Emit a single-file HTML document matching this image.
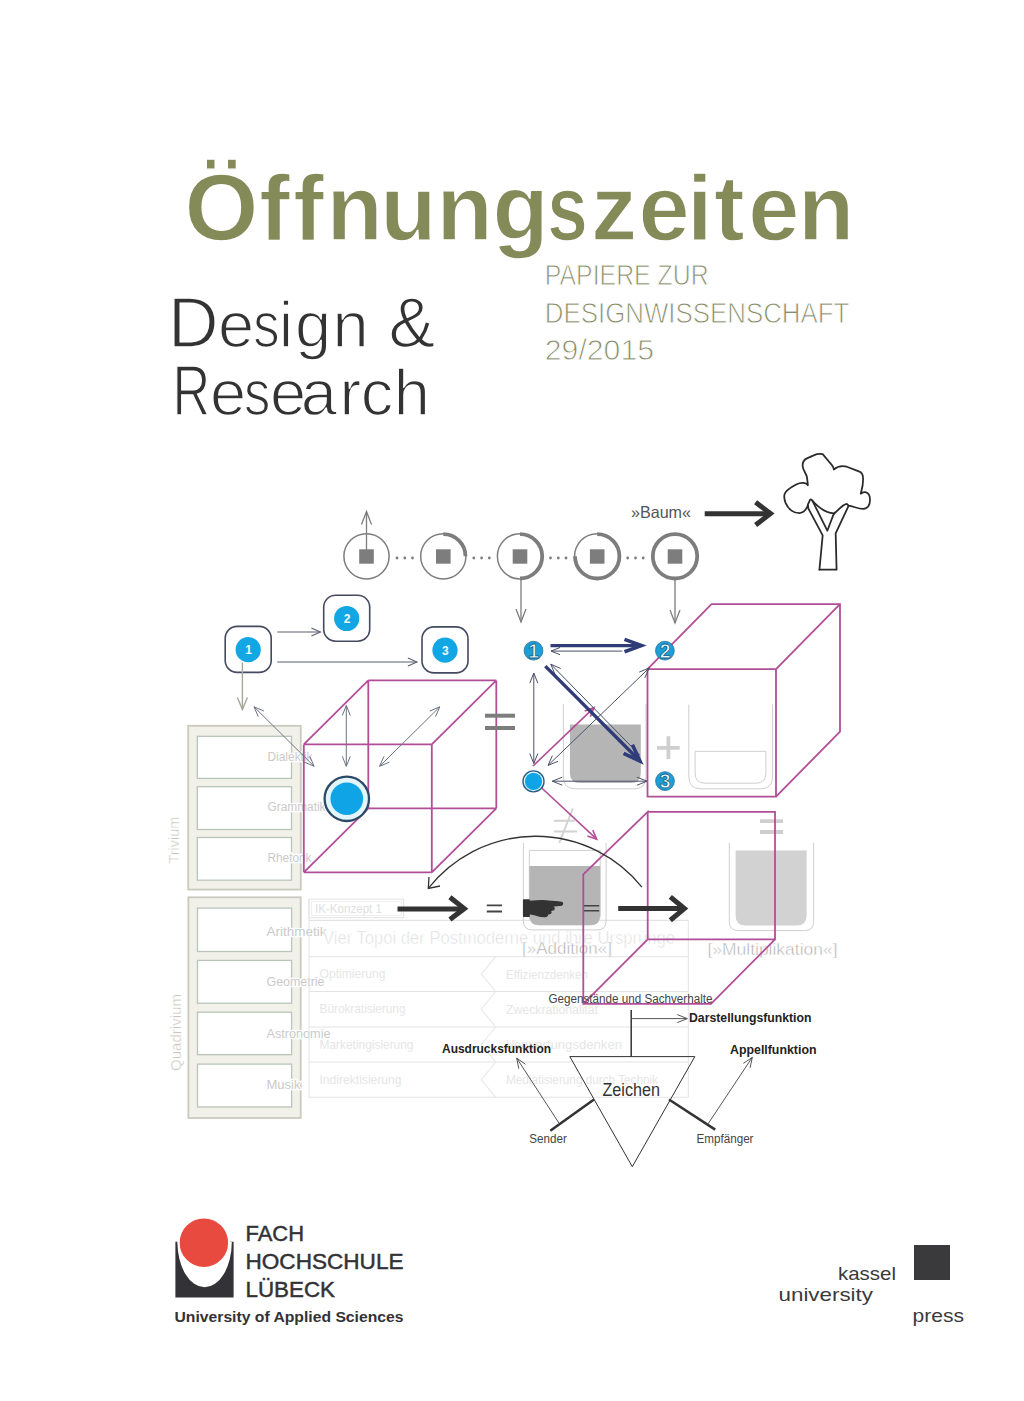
<!DOCTYPE html>
<html><head><meta charset="utf-8">
<style>
html,body{margin:0;padding:0;background:#fff;}
body{width:1024px;height:1401px;overflow:hidden;}
svg{display:block;}
text{font-family:"Liberation Sans",sans-serif;}
</style></head>
<body>
<svg width="1024" height="1401" viewBox="0 0 1024 1401">
<rect width="1024" height="1401" fill="#fff"/>
<text x="184.6" y="239.5" font-size="95" font-weight="bold" fill="#858a59" stroke="#fff" stroke-width="1.4">Ö</text>
<text x="259.3" y="239.5" font-size="92" font-weight="bold" fill="#858a59" stroke="#fff" stroke-width="1.4">f</text>
<text x="293.3" y="239.5" font-size="92" font-weight="bold" fill="#858a59" stroke="#fff" stroke-width="1.4">f</text>
<text x="326.4" y="239.5" font-size="92" font-weight="bold" fill="#858a59" stroke="#fff" stroke-width="1.4">n</text>
<text x="380.3" y="239.5" font-size="92" font-weight="bold" fill="#858a59" stroke="#fff" stroke-width="1.4">u</text>
<text x="436.4" y="239.5" font-size="92" font-weight="bold" fill="#858a59" stroke="#fff" stroke-width="1.4">n</text>
<text x="492.4" y="239.5" font-size="92" font-weight="bold" fill="#858a59" stroke="#fff" stroke-width="1.4">g</text>
<text x="547.2" y="239.5" font-size="92" font-weight="bold" fill="#858a59" textLength="40.55" lengthAdjust="spacingAndGlyphs" stroke="#fff" stroke-width="1.4">s</text>
<text x="590.9" y="239.5" font-size="92" font-weight="bold" fill="#858a59" stroke="#fff" stroke-width="1.4">z</text>
<text x="638.6" y="239.5" font-size="92" font-weight="bold" fill="#858a59" stroke="#fff" stroke-width="1.4">e</text>
<text x="686.9" y="239.5" font-size="92" font-weight="bold" fill="#858a59" stroke="#fff" stroke-width="1.4">i</text>
<text x="713.9" y="239.5" font-size="92" font-weight="bold" fill="#858a59" stroke="#fff" stroke-width="1.4">t</text>
<text x="748.2" y="239.5" font-size="92" font-weight="bold" fill="#858a59" stroke="#fff" stroke-width="1.4">e</text>
<text x="798.0" y="239.5" font-size="92" font-weight="bold" fill="#858a59" stroke="#fff" stroke-width="1.4">n</text>
<text x="167.9" y="346.8" font-size="70" font-weight="normal" fill="#333" stroke="#fff" stroke-width="1.5">D</text>
<text x="217.9" y="346.8" font-size="65" font-weight="normal" fill="#333" stroke="#fff" stroke-width="1.5">e</text>
<text x="253.2" y="346.8" font-size="65" font-weight="normal" fill="#333" textLength="26.37" lengthAdjust="spacingAndGlyphs" stroke="#fff" stroke-width="1.5">s</text>
<text x="278.8" y="346.8" font-size="65" font-weight="normal" fill="#333" stroke="#fff" stroke-width="1.5">i</text>
<text x="295.1" y="346.8" font-size="65" font-weight="normal" fill="#333" stroke="#fff" stroke-width="1.5">g</text>
<text x="332.5" y="346.8" font-size="65" font-weight="normal" fill="#333" stroke="#fff" stroke-width="1.5">n</text>
<text x="388.6" y="346.8" font-size="70" font-weight="normal" fill="#333" stroke="#fff" stroke-width="1.5">&amp;</text>
<text x="172.4" y="415.4" font-size="70" font-weight="normal" fill="#333" textLength="37.70" lengthAdjust="spacingAndGlyphs" stroke="#fff" stroke-width="1.5">R</text>
<text x="210.0" y="415.4" font-size="65" font-weight="normal" fill="#333" stroke="#fff" stroke-width="1.5">e</text>
<text x="244.0" y="415.4" font-size="65" font-weight="normal" fill="#333" textLength="26.37" lengthAdjust="spacingAndGlyphs" stroke="#fff" stroke-width="1.5">s</text>
<text x="270.0" y="415.4" font-size="65" font-weight="normal" fill="#333" stroke="#fff" stroke-width="1.5">e</text>
<text x="300.8" y="415.4" font-size="65" font-weight="normal" fill="#333" stroke="#fff" stroke-width="1.5">a</text>
<text x="339.5" y="415.4" font-size="65" font-weight="normal" fill="#333" stroke="#fff" stroke-width="1.5">r</text>
<text x="360.8" y="415.4" font-size="65" font-weight="normal" fill="#333" stroke="#fff" stroke-width="1.5">c</text>
<text x="393.7" y="415.4" font-size="65" font-weight="normal" fill="#333" stroke="#fff" stroke-width="1.5">h</text>
<text x="544.8" y="284.8" font-size="30" fill="#888d6a" textLength="163.8" lengthAdjust="spacingAndGlyphs" stroke="#fff" stroke-width="0.9">PAPIERE ZUR</text>
<text x="544.8" y="322.5" font-size="30" fill="#888d6a" textLength="304.6" lengthAdjust="spacingAndGlyphs" stroke="#fff" stroke-width="0.9">DESIGNWISSENSCHAFT</text>
<text x="544.8" y="359.6" font-size="30" fill="#888d6a" textLength="109.2" lengthAdjust="spacingAndGlyphs" stroke="#fff" stroke-width="0.9">29/2015</text>
<circle cx="366.5" cy="556.3" r="22.6" fill="#fff" stroke="#7d7d7d" stroke-width="1.5"/>
<rect x="359.2" y="549.3" width="14.6" height="14.4" fill="#7d7d7d"/>
<circle cx="397.0" cy="558" r="1.4" fill="#7d7d7d"/>
<circle cx="404.8" cy="558" r="1.4" fill="#7d7d7d"/>
<circle cx="412.5" cy="558" r="1.4" fill="#7d7d7d"/>
<circle cx="443.3" cy="556.3" r="22.6" fill="#fff" stroke="#7d7d7d" stroke-width="1.5"/>
<path d="M443.3,534.0999999999999 A22.2,22.2 0 0 1 465.5,556.3" fill="none" stroke="#7d7d7d" stroke-width="3.8"/>
<rect x="436.0" y="549.3" width="14.6" height="14.4" fill="#7d7d7d"/>
<circle cx="473.8" cy="558" r="1.4" fill="#7d7d7d"/>
<circle cx="481.6" cy="558" r="1.4" fill="#7d7d7d"/>
<circle cx="489.3" cy="558" r="1.4" fill="#7d7d7d"/>
<circle cx="520.0" cy="556.3" r="22.6" fill="#fff" stroke="#7d7d7d" stroke-width="1.5"/>
<path d="M520.0,534.0999999999999 A22.2,22.2 0 0 1 520.0,578.5" fill="none" stroke="#7d7d7d" stroke-width="3.8"/>
<rect x="512.7" y="549.3" width="14.6" height="14.4" fill="#7d7d7d"/>
<circle cx="550.5" cy="558" r="1.4" fill="#7d7d7d"/>
<circle cx="558.3" cy="558" r="1.4" fill="#7d7d7d"/>
<circle cx="566.0" cy="558" r="1.4" fill="#7d7d7d"/>
<circle cx="597.2" cy="556.3" r="22.6" fill="#fff" stroke="#7d7d7d" stroke-width="1.5"/>
<path d="M597.2,534.0999999999999 A22.2,22.2 0 1 1 575.0,556.3" fill="none" stroke="#7d7d7d" stroke-width="3.8"/>
<rect x="589.9000000000001" y="549.3" width="14.6" height="14.4" fill="#7d7d7d"/>
<circle cx="627.7" cy="558" r="1.4" fill="#7d7d7d"/>
<circle cx="635.5" cy="558" r="1.4" fill="#7d7d7d"/>
<circle cx="643.2" cy="558" r="1.4" fill="#7d7d7d"/>
<circle cx="675.0" cy="556.3" r="22.6" fill="#fff" stroke="#7d7d7d" stroke-width="1.5"/>
<circle cx="675.0" cy="556.3" r="22.2" fill="none" stroke="#7d7d7d" stroke-width="3.8"/>
<rect x="667.7" y="549.3" width="14.6" height="14.4" fill="#7d7d7d"/>
<line x1="366.5" y1="550" x2="366.5" y2="511.5" stroke="#7d7d7d" stroke-width="1.3"/>
<path d="M371.5,524.5 L366.5,511.5 L361.5,524.5" fill="none" stroke="#7d7d7d" stroke-width="1.3" stroke-linejoin="miter"/>
<line x1="521" y1="580" x2="521" y2="622" stroke="#7d7d7d" stroke-width="1.3"/>
<path d="M516.0,609.0 L521,622 L526.0,609.0" fill="none" stroke="#7d7d7d" stroke-width="1.3" stroke-linejoin="miter"/>
<line x1="675" y1="580" x2="675" y2="623" stroke="#7d7d7d" stroke-width="1.3"/>
<path d="M670.0,610.0 L675,623 L680.0,610.0" fill="none" stroke="#7d7d7d" stroke-width="1.3" stroke-linejoin="miter"/>
<path d="M704.7,513.7 L767,513.7" stroke="#333" stroke-width="5"/>
<path d="M755.6,502.3 L770.5,513.6 L755.6,525.1" fill="none" stroke="#333" stroke-width="5" stroke-linejoin="miter"/>
<text x="631" y="518.2" font-size="16.5" fill="#555" textLength="60" lengthAdjust="spacingAndGlyphs" >»Baum«</text>
<g transform="translate(780,450) scale(0.09277)" fill="none" stroke="#2a2a2a" stroke-width="19" stroke-linejoin="round" stroke-linecap="round">
<path d="M425,1290 L460,920 L305,630 L300,590 L325,535 Q335,525 350,548 L510,870 L575,700 L590,680"/>
<path d="M425,1290 L610,1290 L600,900 L740,600"/>
<path d="M350,548 C420,625 490,680 580,682 C630,665 650,595 720,580 L740,600 C790,605 850,640 900,635 C950,630 970,600 970,540 C972,490 960,465 920,455 C900,452 880,465 870,470 C880,430 900,380 895,300 C895,260 880,240 850,230 L720,180 C680,170 620,175 580,210 C575,175 560,160 540,140 L460,45 C430,40 400,40 370,55 L290,90 C250,110 240,140 245,180 C250,220 280,250 290,290 C295,330 300,360 300,380 C280,350 230,345 180,370 C130,395 90,420 60,455 C40,480 45,530 60,570 C90,640 150,680 210,680 C250,675 280,650 300,600"/>
</g>
<rect x="225.2" y="626.4" width="46" height="46" rx="12" fill="#fff" stroke="#444a60" stroke-width="1.6"/>
<circle cx="248.2" cy="649.6999999999999" r="12.6" fill="#12a6e4"/>
<text x="248.5" y="654.0" font-size="12" font-weight="bold" fill="#eefaff" text-anchor="middle">1</text>
<rect x="323.7" y="595.2" width="46" height="46" rx="12" fill="#fff" stroke="#444a60" stroke-width="1.6"/>
<circle cx="346.7" cy="618.5" r="12.6" fill="#12a6e4"/>
<text x="347.0" y="622.8000000000001" font-size="12" font-weight="bold" fill="#eefaff" text-anchor="middle">2</text>
<rect x="422" y="626.9" width="46" height="46" rx="12" fill="#fff" stroke="#444a60" stroke-width="1.6"/>
<circle cx="445" cy="650.1999999999999" r="12.6" fill="#12a6e4"/>
<text x="445.3" y="654.5" font-size="12" font-weight="bold" fill="#eefaff" text-anchor="middle">3</text>
<line x1="277.2" y1="632" x2="320.4" y2="632" stroke="#5a5e70" stroke-width="1.1"/>
<path d="M311.4,636.0 L320.4,632 L311.4,628.0" fill="none" stroke="#5a5e70" stroke-width="1.1" stroke-linejoin="miter"/>
<line x1="277.2" y1="662" x2="416.9" y2="662" stroke="#5a5e70" stroke-width="1.1"/>
<path d="M407.9,666.0 L416.9,662 L407.9,658.0" fill="none" stroke="#5a5e70" stroke-width="1.1" stroke-linejoin="miter"/>
<line x1="242.4" y1="662.5" x2="242.4" y2="709.4" stroke="#a4a89a" stroke-width="1.4"/>
<path d="M237.4,697.4 L242.4,709.4 L247.4,697.4" fill="none" stroke="#a4a89a" stroke-width="1.4" stroke-linejoin="miter"/>
<rect x="188.2" y="725.8" width="112.6" height="163.8" fill="#f1f1ea" stroke="#cacabf" stroke-width="1.8"/>
<rect x="197.3" y="736.3" width="94.2" height="42.1" fill="#fff" stroke="#b9c5b8" stroke-width="1.3"/>
<rect x="197.3" y="786.7" width="94.2" height="42.8" fill="#fff" stroke="#b9c5b8" stroke-width="1.3"/>
<rect x="197.3" y="837.5" width="94.2" height="42.7" fill="#fff" stroke="#b9c5b8" stroke-width="1.3"/>
<rect x="188.4" y="897.3" width="112.3" height="220.7" fill="#f1f1ea" stroke="#cacabf" stroke-width="1.8"/>
<rect x="197.5" y="908.1" width="94.1" height="43.4" fill="#fff" stroke="#b9c5b8" stroke-width="1.3"/>
<rect x="197.5" y="960.4" width="94.1" height="42.8" fill="#fff" stroke="#b9c5b8" stroke-width="1.3"/>
<rect x="197.5" y="1012.2" width="94.1" height="42.5" fill="#fff" stroke="#b9c5b8" stroke-width="1.3"/>
<rect x="197.5" y="1064.1" width="94.1" height="42.9" fill="#fff" stroke="#b9c5b8" stroke-width="1.3"/>
<text x="267.5" y="760.6" font-size="12.5" fill="#cacaca" textLength="45" lengthAdjust="spacingAndGlyphs" stroke="#fff" stroke-width="2.5" paint-order="stroke">Dialektik</text>
<text x="267.5" y="811.3" font-size="12.5" fill="#cacaca" textLength="58" lengthAdjust="spacingAndGlyphs" stroke="#fff" stroke-width="2.5" paint-order="stroke">Grammatik</text>
<text x="267.5" y="862" font-size="12.5" fill="#cacaca" textLength="44" lengthAdjust="spacingAndGlyphs" stroke="#fff" stroke-width="2.5" paint-order="stroke">Rhetorik</text>
<text x="266.5" y="935.5" font-size="12.5" fill="#cacaca" textLength="60" lengthAdjust="spacingAndGlyphs" stroke="#fff" stroke-width="2.5" paint-order="stroke">Arithmetik</text>
<text x="266.5" y="986" font-size="12.5" fill="#cacaca" textLength="58" lengthAdjust="spacingAndGlyphs" stroke="#fff" stroke-width="2.5" paint-order="stroke">Geometrie</text>
<text x="266.5" y="1038.4" font-size="12.5" fill="#cacaca" textLength="64" lengthAdjust="spacingAndGlyphs" stroke="#fff" stroke-width="2.5" paint-order="stroke">Astronomie</text>
<text x="266.5" y="1089" font-size="12.5" fill="#cacaca" textLength="34" lengthAdjust="spacingAndGlyphs" stroke="#fff" stroke-width="2.5" paint-order="stroke">Musik</text>
<text transform="translate(178.5,863.6) rotate(-90)" font-size="14.5" fill="#c8c8c0" stroke="#fff" stroke-width="0.3" textLength="47" lengthAdjust="spacingAndGlyphs">Trivium</text>
<text transform="translate(180.5,1071) rotate(-90)" font-size="14.5" fill="#c8c8c0" stroke="#fff" stroke-width="0.3" textLength="77" lengthAdjust="spacingAndGlyphs">Quadrivium</text>
<path d="M303.8,744.4 L431.8,744.4 M368.3,680.4 L496.3,680.4 M303.8,744.4 L368.3,680.4 M431.8,744.4 L431.8,872.3 M496.3,680.4 L496.3,808.3 M431.8,744.4 L496.3,680.4 M431.8,872.3 L303.8,872.3 M496.3,808.3 L368.3,808.3 M431.8,872.3 L496.3,808.3 M303.8,872.3 L303.8,744.4 M368.3,808.3 L368.3,680.4 M303.8,872.3 L368.3,808.3" fill="none" stroke="#b24e98" stroke-width="1.8"/>
<line x1="254" y1="706.8" x2="314.1" y2="766.3" stroke="#6b7283" stroke-width="1.0"/>
<path d="M304.2,762.1 L314.1,766.3 L309.8,756.4" fill="none" stroke="#6b7283" stroke-width="1.0" stroke-linejoin="miter"/>
<path d="M263.9,711.0 L254,706.8 L258.3,716.7" fill="none" stroke="#6b7283" stroke-width="1.0" stroke-linejoin="miter"/>
<line x1="346.3" y1="705.5" x2="346.3" y2="766.3" stroke="#6b7283" stroke-width="1.0"/>
<path d="M342.3,756.3 L346.3,766.3 L350.3,756.3" fill="none" stroke="#6b7283" stroke-width="1.0" stroke-linejoin="miter"/>
<path d="M350.3,715.5 L346.3,705.5 L342.3,715.5" fill="none" stroke="#6b7283" stroke-width="1.0" stroke-linejoin="miter"/>
<line x1="439.8" y1="706.8" x2="379.6" y2="766.3" stroke="#6b7283" stroke-width="1.0"/>
<path d="M383.9,756.4 L379.6,766.3 L389.5,762.1" fill="none" stroke="#6b7283" stroke-width="1.0" stroke-linejoin="miter"/>
<path d="M435.5,716.7 L439.8,706.8 L429.9,711.0" fill="none" stroke="#6b7283" stroke-width="1.0" stroke-linejoin="miter"/>
<circle cx="346.8" cy="798.8" r="22.2" fill="#e2f5fa" stroke="#2c4a68" stroke-width="2.3"/>
<circle cx="346.8" cy="798.8" r="16.3" fill="#0ea4e6"/>
<rect x="485" y="713.7" width="30" height="4" fill="#7d7d7d"/><rect x="485" y="726" width="30" height="4" fill="#7d7d7d"/>
<rect x="309" y="899.2" width="94.7" height="18.5" fill="none" stroke="#e3e3e3" stroke-width="1"/>
<rect x="311.5" y="901.5" width="89.7" height="14" fill="none" stroke="#ededed" stroke-width="0.8"/>
<path d="M309,899 L309,1097.3 M688.3,920.4 L688.3,1097.3" stroke="#e3e3e3" stroke-width="1" fill="none"/>
<line x1="309" y1="920.4" x2="688.3" y2="920.4" stroke="#e3e3e3" stroke-width="1.1"/>
<line x1="309" y1="956.7" x2="688.3" y2="956.7" stroke="#e3e3e3" stroke-width="1.1"/>
<line x1="309" y1="991.5" x2="688.3" y2="991.5" stroke="#e3e3e3" stroke-width="1.1"/>
<line x1="309" y1="1027" x2="688.3" y2="1027" stroke="#e3e3e3" stroke-width="1.1"/>
<line x1="309" y1="1062" x2="688.3" y2="1062" stroke="#e3e3e3" stroke-width="1.1"/>
<line x1="309" y1="1097.3" x2="688.3" y2="1097.3" stroke="#e3e3e3" stroke-width="1.1"/>
<path d="M495.8,956.7 L481.2,974.1 L495.8,991.5" fill="none" stroke="#e8e8e8" stroke-width="1.1"/>
<path d="M495.8,991.5 L481.2,1009.2 L495.8,1027" fill="none" stroke="#e8e8e8" stroke-width="1.1"/>
<path d="M495.8,1027 L481.2,1044.5 L495.8,1062" fill="none" stroke="#e8e8e8" stroke-width="1.1"/>
<path d="M495.8,1062 L481.2,1079.7 L495.8,1097.3" fill="none" stroke="#e8e8e8" stroke-width="1.1"/>
<text x="315" y="913" font-size="12" fill="#e0e0e0" textLength="67" lengthAdjust="spacingAndGlyphs" >IK-Konzept 1</text>
<text x="323" y="943.7" font-size="17.5" fill="#dadada" textLength="352" lengthAdjust="spacingAndGlyphs" stroke="#fff" stroke-width="0.6">Vier Topoi der Postmoderne und ihre Ursprünge</text>
<text x="319.5" y="978.2" font-size="12" fill="#e6e6e6" textLength="66" lengthAdjust="spacingAndGlyphs" >Optimierung</text>
<text x="319.5" y="1013" font-size="12" fill="#e6e6e6" textLength="86" lengthAdjust="spacingAndGlyphs" >Bürokratisierung</text>
<text x="319.5" y="1049" font-size="12" fill="#e6e6e6" textLength="94" lengthAdjust="spacingAndGlyphs" >Marketingisierung</text>
<text x="319.5" y="1083.8" font-size="12" fill="#e6e6e6" textLength="82" lengthAdjust="spacingAndGlyphs" >Indirektisierung</text>
<text x="506" y="978.8" font-size="12" fill="#e6e6e6" textLength="82" lengthAdjust="spacingAndGlyphs" >Effizienzdenken</text>
<text x="506" y="1013.5" font-size="12" fill="#e6e6e6" textLength="92" lengthAdjust="spacingAndGlyphs" >Zweckrationalität</text>
<text x="506" y="1049" font-size="12" fill="#e6e6e6" textLength="116" lengthAdjust="spacingAndGlyphs" >Verwertungsdenken</text>
<text x="506" y="1084" font-size="12" fill="#e6e6e6" textLength="152" lengthAdjust="spacingAndGlyphs" >Mediatisierung durch Technik</text>
<path d="M563.4,704 L563.4,776.8 Q563.4,788.8 575.4,788.8 L634,788.8 Q646,788.8 646,776.8 L646,704" fill="none" stroke="#cfcfcf" stroke-width="1"/>
<path d="M569.9,724.4 L569.9,772.9 Q569.9,782.9 579.9,782.9 L630.8,782.9 Q640.8,782.9 640.8,772.9 L640.8,724.4 Z" fill="#b5b5b5"/>
<path d="M688.8,704.6 L688.8,776.8 Q688.8,788.8 700.8,788.8 L760.6,788.8 Q772.6,788.8 772.6,776.8 L772.6,704.6" fill="none" stroke="#cfcfcf" stroke-width="1"/>
<path d="M695.1,751.3 L695.1,773.2 Q695.1,783.2 705.1,783.2 L755.9,783.2 Q765.9,783.2 765.9,773.2 L765.9,751.3 Z" fill="none" stroke="#cfcfcf" stroke-width="1"/>
<path d="M657,747.8 L679.7,747.8 M668.4,736.2 L668.4,758.9" stroke="#cfcfcf" stroke-width="3.8"/>
<path d="M523.4,842.9 L523.4,920.9 Q523.4,929.9 532.4,929.9 L597.1,929.9 Q606.1,929.9 606.1,920.9 L606.1,842.9" fill="none" stroke="#cfcfcf" stroke-width="1"/>
<path d="M529.3,850.4 L529.3,915 Q529.3,925 539.3,925 L590.2,925 Q600.2,925 600.2,915 L600.2,850.4 Z" fill="none" stroke="#cfcfcf" stroke-width="1"/>
<path d="M529.3,866 L529.3,915 Q529.3,925 539.3,925 L590.2,925 Q600.2,925 600.2,915 L600.2,866 Z" fill="#b5b5b5"/>
<path d="M729.3,842.7 L729.3,921.6 Q729.3,930.6 738.3,930.6 L804.6,930.6 Q813.6,930.6 813.6,921.6 L813.6,842.7" fill="none" stroke="#cfcfcf" stroke-width="1"/>
<path d="M735.6,850.5 L735.6,915.4 Q735.6,925.4 745.6,925.4 L796.6,925.4 Q806.6,925.4 806.6,915.4 L806.6,850.5 Z" fill="#d2d2d2"/>
<path d="M760,821.2 L783,821.2 M760,832 L783,832" stroke="#cfcfcf" stroke-width="3.8"/>
<path d="M554,820.8 L575,820.8 M554,831.4 L577,831.4 M572.8,808.5 L559.3,843" stroke="#d2d2d2" stroke-width="2" fill="none"/>
<text x="522" y="954.1" font-size="17" fill="#aaaaaa" textLength="90" lengthAdjust="spacingAndGlyphs" stroke="#fff" stroke-width="0.5">[»Addition«]</text>
<text x="707.5" y="955.3" font-size="17" fill="#aaaaaa" textLength="130" lengthAdjust="spacingAndGlyphs" stroke="#fff" stroke-width="0.5">[»Multiplikation«]</text>
<path d="M647.5,669.1 L776.0,669.1 L776.0,796.6 L647.5,796.6 L647.5,669.1 L711.5,604.1 L840.0,604.1 L840.0,731.6 L776.0,796.6 M776.0,669.1 L840.0,604.1" fill="none" stroke="#b24e98" stroke-width="1.8" stroke-linejoin="miter"/>
<path d="M647.7,811.8 L775.0,811.8 L775.0,939.4 L647.7,939.4 L647.7,811.8 L583.3,874.4 L583.3,1003.8 L711.0,1003.8 L775.0,939.4 M583.3,1003.8 L647.7,939.4" fill="none" stroke="#b24e98" stroke-width="1.8" stroke-linejoin="miter"/>
<line x1="533" y1="766" x2="594" y2="707.7" stroke="#b24e98" stroke-width="1.6"/>
<path d="M590.3,716.8 L594,707.7 L584.7,711.0" fill="none" stroke="#b24e98" stroke-width="1.6" stroke-linejoin="miter"/>
<line x1="538" y1="784.5" x2="596.7" y2="839.2" stroke="#b24e98" stroke-width="1.6"/>
<path d="M587.4,836.0 L596.7,839.2 L592.8,830.1" fill="none" stroke="#b24e98" stroke-width="1.6" stroke-linejoin="miter"/>
<line x1="622.3" y1="651.1" x2="551" y2="651.1" stroke="#4a5068" stroke-width="1.0"/>
<path d="M560.0,647.5 L551,651.1 L560.0,654.7" fill="none" stroke="#4a5068" stroke-width="1.0" stroke-linejoin="miter"/>
<line x1="639.9" y1="755.2" x2="550.8" y2="664.2" stroke="#4a5068" stroke-width="1.0"/>
<path d="M560.7,668.5 L550.8,664.2 L554.9,674.1" fill="none" stroke="#4a5068" stroke-width="1.0" stroke-linejoin="miter"/>
<line x1="533.8" y1="673.1" x2="533.8" y2="763.5" stroke="#4a5068" stroke-width="1.0"/>
<path d="M529.8,753.5 L533.8,763.5 L537.8,753.5" fill="none" stroke="#4a5068" stroke-width="1.0" stroke-linejoin="miter"/>
<path d="M537.8,683.1 L533.8,673.1 L529.8,683.1" fill="none" stroke="#4a5068" stroke-width="1.0" stroke-linejoin="miter"/>
<line x1="548" y1="765.4" x2="649.2" y2="668" stroke="#4a5068" stroke-width="1.0"/>
<path d="M644.8,677.8 L649.2,668 L639.2,672.1" fill="none" stroke="#4a5068" stroke-width="1.0" stroke-linejoin="miter"/>
<path d="M552.4,755.6 L548,765.4 L558.0,761.3" fill="none" stroke="#4a5068" stroke-width="1.0" stroke-linejoin="miter"/>
<line x1="552.3" y1="781.2" x2="647" y2="781.2" stroke="#4a5068" stroke-width="1.0"/>
<path d="M637.0,785.2 L647,781.2 L637.0,777.2" fill="none" stroke="#4a5068" stroke-width="1.0" stroke-linejoin="miter"/>
<path d="M562.3,777.2 L552.3,781.2 L562.3,785.2" fill="none" stroke="#4a5068" stroke-width="1.0" stroke-linejoin="miter"/>
<line x1="550.5" y1="645.6" x2="639" y2="645.6" stroke="#2f3c78" stroke-width="3.4"/>
<path d="M624.5,651.8 L641.5,645.6 L624.5,639.4" fill="none" stroke="#2f3c78" stroke-width="3.6" stroke-linejoin="miter"/>
<line x1="545.3" y1="666.1" x2="637" y2="758" stroke="#2f3c78" stroke-width="3.4"/>
<path d="M623.6,753.4 L640,761.1 L632.4,744.7" fill="none" stroke="#2f3c78" stroke-width="3.6" stroke-linejoin="miter"/>
<circle cx="533.5" cy="650.7" r="9.4" fill="#1d9fd6" stroke="#2a6f9c" stroke-width="0.8"/>
<text x="533.7" y="657.7" font-size="19.5" font-weight="bold" fill="#e9fbff" stroke="#245f86" stroke-width="0.8" text-anchor="middle">1</text>
<circle cx="664.9" cy="650.7" r="9.4" fill="#1d9fd6" stroke="#2a6f9c" stroke-width="0.8"/>
<text x="665.1" y="657.7" font-size="19.5" font-weight="bold" fill="#e9fbff" stroke="#245f86" stroke-width="0.8" text-anchor="middle">2</text>
<circle cx="665" cy="781.1" r="9.4" fill="#1d9fd6" stroke="#2a6f9c" stroke-width="0.8"/>
<text x="665.2" y="788.1" font-size="19.5" font-weight="bold" fill="#e9fbff" stroke="#245f86" stroke-width="0.8" text-anchor="middle">3</text>
<circle cx="533.5" cy="781.4" r="10.5" fill="#dff6fd" stroke="#2c5f86" stroke-width="1.4"/>
<circle cx="533.5" cy="781.4" r="8.6" fill="#0ea4e6"/>
<path d="M428.3,888.4 A136.5,136.5 0 0 1 641.9,887.1" fill="none" stroke="#333" stroke-width="1.3"/>
<path d="M429,877 L428.3,888.4 L440,886" fill="none" stroke="#333" stroke-width="1.3"/>
<path d="M397.5,908.9 L461,908.9" stroke="#333" stroke-width="5"/>
<path d="M449.9,897.2 L464.3,908.6 L449.9,919.6" fill="none" stroke="#333" stroke-width="5" stroke-linejoin="miter"/>
<path d="M486.8,905.4 L502,905.4 M486.8,911.5 L502,911.5" stroke="#444" stroke-width="1.8"/>
<path d="M584.1,905.7 L599.2,905.7 M584.1,910.8 L599.2,910.8" stroke="#444" stroke-width="1.4"/>
<path d="M618.2,908.5 L681,908.5" stroke="#333" stroke-width="5"/>
<path d="M670.3,896.8 L684.4,908.6 L670.3,920.2" fill="none" stroke="#333" stroke-width="5" stroke-linejoin="miter"/>
<g fill="#333" stroke="#333" stroke-width="1.3" stroke-linejoin="round"><rect x="523.6" y="900" width="5.6" height="16.3"/><path d="M529.2,901.3 L542.3,900.6 L558,901.9 L561.6,902.3 Q563.6,903.4 561.6,905.2 L552.1,906 Q554.8,907.5 553.8,909.6 L550.2,910.6 Q552,912.3 549.9,913.7 L547.2,914.1 Q548.3,915.8 545.3,916.5 L540.4,916.3 L534.5,914.6 L529.2,913.5 Z"/></g>
<path d="M569.8,1056.6 L694.8,1056.6 L632.3,1166.7 Z" fill="none" stroke="#333" stroke-width="1"/>
<line x1="631.2" y1="1010" x2="631.2" y2="1056.6" stroke="#333" stroke-width="1.5"/>
<line x1="631.2" y1="1018.6" x2="687.3" y2="1018.6" stroke="#555" stroke-width="1.0"/>
<path d="M677.3,1022.6 L687.3,1018.6 L677.3,1014.6" fill="none" stroke="#555" stroke-width="1.0" stroke-linejoin="miter"/>
<line x1="594" y1="1099.5" x2="550.3" y2="1130.8" stroke="#333" stroke-width="2.5"/>
<line x1="669" y1="1099.5" x2="715.2" y2="1129.6" stroke="#333" stroke-width="2.5"/>
<line x1="558.9" y1="1123" x2="516.7" y2="1058.1" stroke="#555" stroke-width="1.0"/>
<path d="M525.5,1064.3 L516.7,1058.1 L518.8,1068.7" fill="none" stroke="#555" stroke-width="1.0" stroke-linejoin="miter"/>
<line x1="708.1" y1="1123.8" x2="752.3" y2="1057.3" stroke="#555" stroke-width="1.0"/>
<path d="M750.1,1067.8 L752.3,1057.3 L743.4,1063.4" fill="none" stroke="#555" stroke-width="1.0" stroke-linejoin="miter"/>
<text x="548.5" y="1002.6" font-size="12" fill="#444" textLength="164" lengthAdjust="spacingAndGlyphs" >Gegenstände und Sachverhalte</text>
<text x="689" y="1021.8" font-size="12.5" fill="#222" textLength="122.5" lengthAdjust="spacingAndGlyphs" font-weight="bold">Darstellungsfunktion</text>
<text x="442" y="1053.4" font-size="12.5" fill="#222" textLength="109" lengthAdjust="spacingAndGlyphs" font-weight="bold">Ausdrucksfunktion</text>
<text x="730" y="1053.8" font-size="12.5" fill="#222" textLength="86.5" lengthAdjust="spacingAndGlyphs" font-weight="bold">Appellfunktion</text>
<text x="602.5" y="1096.4" font-size="17.5" fill="#333" textLength="57.5" lengthAdjust="spacingAndGlyphs" >Zeichen</text>
<text x="529.3" y="1142.5" font-size="12" fill="#444" textLength="37.5" lengthAdjust="spacingAndGlyphs" >Sender</text>
<text x="696.5" y="1142.5" font-size="12" fill="#444" textLength="57" lengthAdjust="spacingAndGlyphs" >Empfänger</text>
<path d="M175.4,1241.8 L233.6,1241.8 L233.6,1297.4 L175.4,1297.4 Z M177.4,1242 A27.2,45.3 0 0 0 231.8,1242 Z" fill="#333236" fill-rule="evenodd"/>
<circle cx="203.9" cy="1242.7" r="25.2" fill="#e84a3f" stroke="#fff" stroke-width="2"/>
<text x="245.5" y="1240.5" font-size="22.2" fill="#333236" textLength="58.5" lengthAdjust="spacingAndGlyphs" stroke="#333236" stroke-width="0.45">FACH</text>
<text x="245.5" y="1269.1" font-size="22.2" fill="#333236" textLength="158" lengthAdjust="spacingAndGlyphs" stroke="#333236" stroke-width="0.45">HOCHSCHULE</text>
<text x="245.5" y="1297" font-size="22.2" fill="#333236" textLength="89.5" lengthAdjust="spacingAndGlyphs" stroke="#333236" stroke-width="0.45">LÜBECK</text>
<text x="174.5" y="1321.8" font-size="14.8" fill="#333236" textLength="229" lengthAdjust="spacingAndGlyphs" font-weight="bold">University of Applied Sciences</text>
<rect x="914" y="1245" width="36" height="35" fill="#3a393c"/>
<text x="838" y="1280" font-size="18.5" fill="#3a393c" textLength="58" lengthAdjust="spacingAndGlyphs" >kassel</text>
<text x="778.5" y="1300.9" font-size="18.5" fill="#3a393c" textLength="94.5" lengthAdjust="spacingAndGlyphs" >university</text>
<text x="912.5" y="1322.4" font-size="18.5" fill="#3a393c" textLength="51.5" lengthAdjust="spacingAndGlyphs" >press</text>
</svg>
</body></html>
